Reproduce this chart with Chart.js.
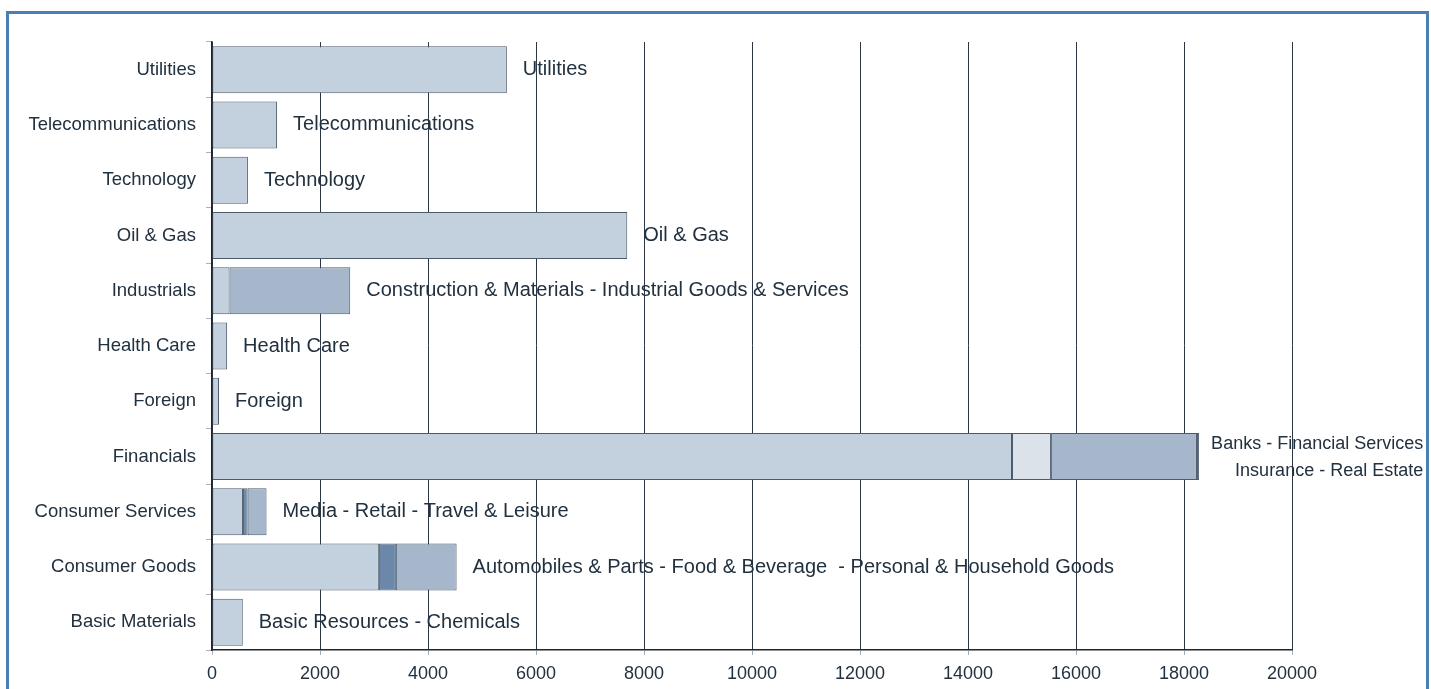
<!DOCTYPE html>
<html>
<head>
<meta charset="utf-8">
<title>Sectors</title>
<script src="https://cdn.jsdelivr.net/npm/chart.js@4.4.1/dist/chart.umd.min.js"></script>
<style>
  html, body { margin: 0; padding: 0; background: #ffffff; overflow: hidden; }
  #frame {
    position: absolute; left: 6px; top: 11px; width: 1423px; height: 700px;
    border: 3px solid #4a7fb3; box-sizing: border-box;
  }
  #wrap { position: absolute; left: 0; top: 0; width: 1431px; height: 689px; }
</style>
</head>
<body>
<div id="frame"></div>
<div id="wrap"><canvas id="sectorChart"></canvas></div>
<script>
// sectors, bottom to top
const sectors = [
  "Basic Materials", "Consumer Goods", "Consumer Services", "Financials",
  "Foreign", "Health Care", "Industrials", "Oil & Gas",
  "Technology", "Telecommunications", "Utilities"
];

// stacked pieces of each bar (null = no piece)
const part1 = [570, 3090, 575, 14815, 130, 280, 325, 7690, 665, 1205, 5460];
const part2 = [null, 315, 85, 720, null, null, 2235, null, null, null, null];
const part3 = [null, 1125, 350, 2705, null, null, null, null, null, null, null];
const part4 = [null, null, null, 40, null, null, null, null, null, null, null];

// text written at the end of each bar
const barNotes = [
  "Basic Resources - Chemicals",
  "Automobiles & Parts - Food & Beverage  - Personal & Household Goods",
  "Media - Retail - Travel & Leisure",
  ["Banks - Financial Services", "Insurance - Real Estate"],
  "Foreign",
  "Health Care",
  "Construction & Materials - Industrial Goods & Services",
  "Oil & Gas",
  "Technology",
  "Telecommunications",
  "Utilities"
];

const xTicks = [0, 2000, 4000, 6000, 8000, 10000, 12000, 14000, 16000, 18000, 20000];

const LIGHT = "#c3d0de";
const PALE = "#dbe2ea";
const MID = "#a6b7cc";
const DARK = "#6b88aa";
const INK = "#22313f";
const FONT = "'Liberation Sans', Arial, sans-serif";

const barNotesPlugin = {
  id: "barNotes",
  afterDatasetsDraw(chart) {
    const ctx = chart.ctx;
    const sets = chart.data.datasets;
    ctx.save();
    ctx.fillStyle = INK;
    ctx.textBaseline = "middle";
    sectors.forEach((s, i) => {
      // last piece drawn for this sector
      let el = null;
      for (let d = sets.length - 1; d >= 0; d--) {
        if (sets[d].data[i] !== null) { el = chart.getDatasetMeta(d).data[i]; break; }
      }
      if (!el) return;
      const note = barNotes[i];
      if (Array.isArray(note)) {
        ctx.font = "18px " + FONT;
        const w = Math.max(...note.map((t) => ctx.measureText(t).width));
        ctx.textAlign = "right";
        ctx.fillText(note[0], el.x + 12 + w, el.y - 13);
        ctx.fillText(note[1], el.x + 12 + w, el.y + 14);
      } else {
        ctx.font = "20px " + FONT;
        ctx.textAlign = "left";
        ctx.fillText(note, el.x + 16, el.y);
      }
    });
    ctx.restore();
  }
};

const ctx = document.getElementById("sectorChart").getContext("2d");
new Chart(ctx, {
  type: "bar",
  data: {
    labels: sectors,
    datasets: [
      { label: "part1", data: part1, backgroundColor: LIGHT },
      { label: "part2", data: part2, backgroundColor: [LIGHT, DARK, DARK, PALE, LIGHT, LIGHT, MID, LIGHT, LIGHT, LIGHT, LIGHT] },
      { label: "part3", data: part3, backgroundColor: MID },
      { label: "part4", data: part4, backgroundColor: DARK }
    ].map((d) => Object.assign(d, {
      borderColor: "#4d5a6a",
      borderWidth: 1,
      borderSkipped: false,
      categoryPercentage: 1,
      barPercentage: 0.85
    }))
  },
  plugins: [barNotesPlugin],
  options: {
    indexAxis: "y",
    responsive: true,
    maintainAspectRatio: false,
    animation: false,
    layout: { padding: { top: 42, right: 139, left: 0, bottom: 0 } },
    plugins: {
      legend: { display: false },
      tooltip: { enabled: false }
    },
    scales: {
      x: {
        stacked: true,
        min: 0,
        max: 20000,
        afterBuildTicks: (scale) => { scale.ticks = xTicks.map((v) => ({ value: v })); },
        afterFit: (scale) => { scale.height = 39; },
        grid: { color: "#2c3746", lineWidth: 1, tickLength: 5, tickColor: "#aab1ba" },
        border: { color: "#1c2633", width: 1.5 },
        ticks: {
          color: INK,
          font: { family: FONT, size: 18 },
          padding: 8,
          maxRotation: 0,
          callback: (v) => String(v)
        }
      },
      y: {
        stacked: true,
        reverse: true,
        afterFit: (scale) => { scale.width = 212; },
        grid: { drawOnChartArea: false, tickLength: 6, tickColor: "#aab1ba", offset: true },
        border: { color: "#1c2633", width: 1.5 },
        ticks: { color: INK, font: { family: FONT, size: 18.5 }, padding: 10, autoSkip: false }
      }
    }
  }
});
</script>
</body>
</html>
